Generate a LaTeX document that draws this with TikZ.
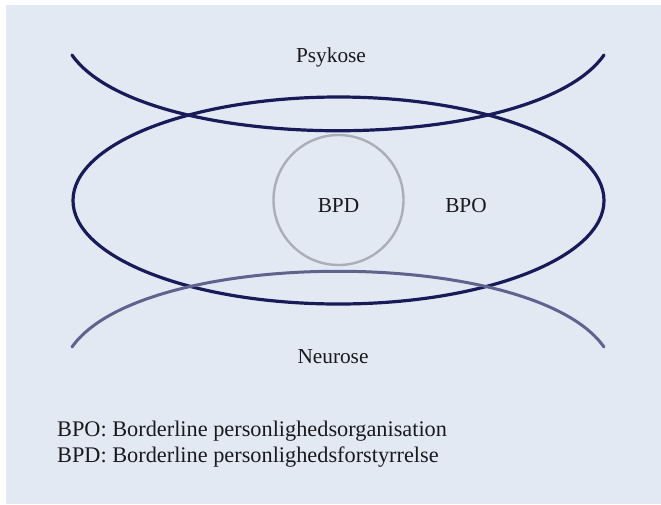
\documentclass[tikz,border=0pt]{standalone}
\usepackage{fontspec}
\setmainfont{Liberation Serif}
\definecolor{panelbg}{RGB}{226,233,243}
\definecolor{navy}{RGB}{24,27,88}
\definecolor{slate}{RGB}{96,99,142}
\definecolor{ringgray}{RGB}{170,174,184}
\definecolor{txt}{RGB}{25,25,30}
\tikzset{
  label text/.style={text=txt, inner sep=0pt, font=\fontsize{21.3}{26}\selectfont},
  legend text/.style={text=txt, inner sep=0pt, font=\fontsize{22.3}{26}\selectfont},
  navy line/.style={draw=navy, line width=3.2pt, line cap=round},
  slate line/.style={draw=slate, line width=3pt, line cap=round},
  ring line/.style={draw=ringgray, line width=2.4pt}
}
\begin{document}
\begin{tikzpicture}[x=1pt,y=-1pt]
\useasboundingbox (0,0) rectangle (661,504);
\fill[white] (0,0) rectangle (661,504);
\fill[panelbg] (6,5) rectangle (661,504);
% BPD circle
\draw[ring line] (338.5,200) circle[radius=65];
% BPO ellipse
\draw[navy line] (338.5,200.5) ellipse[x radius=265.5, y radius=103.5];
% Psykose curve
\draw[navy line] (72,55) .. controls (143,156) and (533,156) .. (604,55);
% Neurose curve
\draw[slate line] (72,347) .. controls (143,246) and (533,246) .. (604,347);
% labels
\node[label text, anchor=base] (psykose) at (331,62) {Psykose};
\node[label text, anchor=base] (bpd) at (338.5,212) {BPD};
\node[label text, anchor=base] (bpo) at (466,212) {BPO};
\node[label text, anchor=base] (neurose) at (333,363) {Neurose};
\node[legend text, anchor=base west] (legendA) at (57,436) {BPO: Borderline personlighedsorganisation};
\node[legend text, anchor=base west] (legendB) at (57,462) {BPD: Borderline personlighedsforstyrrelse};
\end{tikzpicture}
\end{document}
